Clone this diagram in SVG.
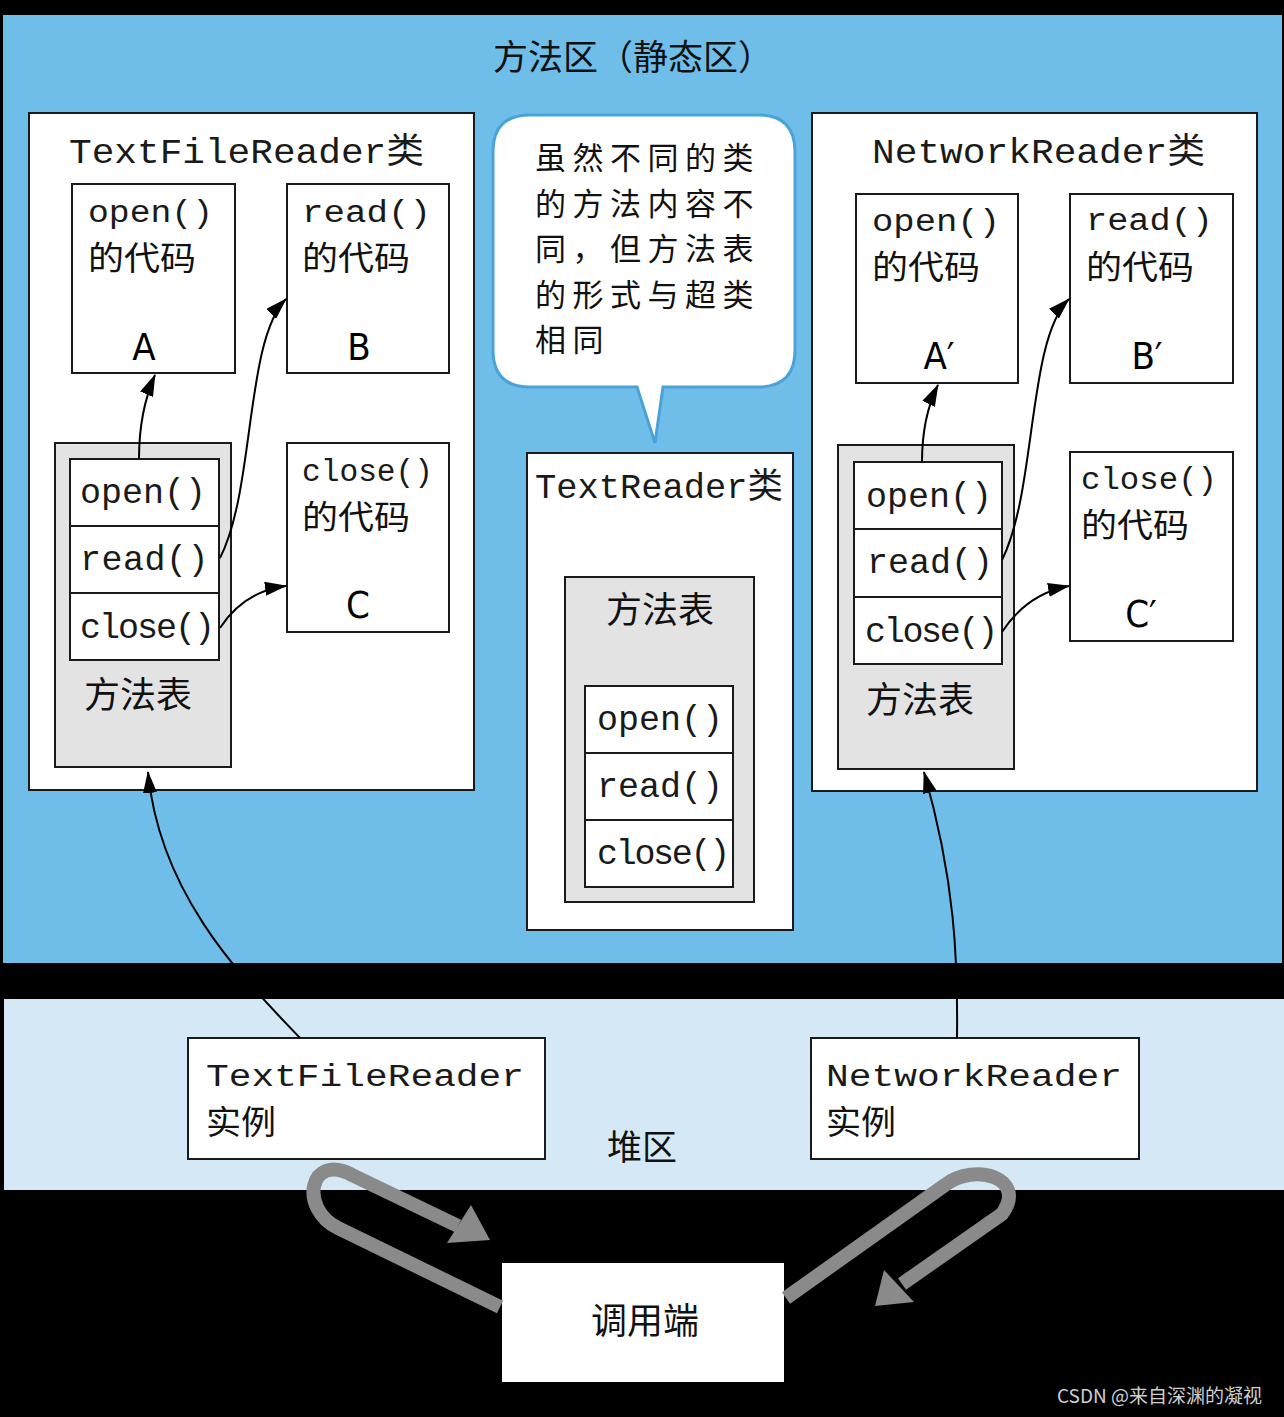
<svg xmlns="http://www.w3.org/2000/svg" width="1284" height="1417" viewBox="0 0 1284 1417">
<defs>
<style>
.box{fill:#fff;stroke:#1a1a1a;stroke-width:2}
.tbl{fill:#e3e3e3;stroke:#1a1a1a;stroke-width:2}
.mono{font-family:"Liberation Mono","Noto Sans CJK SC",monospace;font-size:35px;fill:#1a1a1a}
.m31{font-size:31px}
.cjk{font-family:"Noto Sans CJK SC",sans-serif;font-size:36px;fill:#111}
.c35{font-size:35px}
.c33{font-size:33px}
.c31{font-size:31px;letter-spacing:6.5px}
.let{font-family:"DejaVu Sans Condensed","DejaVu Sans",sans-serif;font-stretch:condensed;font-size:38px;fill:#000;text-anchor:middle}
.conn{fill:none;stroke:#000;stroke-width:2}
.big{fill:none;stroke:#8a8a8a;stroke-width:14;stroke-linejoin:round}
</style>
<marker id="ah" viewBox="0 0 22 14" refX="21" refY="7" markerWidth="22" markerHeight="14" markerUnits="userSpaceOnUse" orient="auto">
<path d="M0,0 L22,7 L0,14 z" fill="#000"/>
</marker>
</defs>
<rect x="0" y="0" width="1284" height="1417" fill="#000"/>
<rect id="method-area" x="3" y="15" width="1279" height="948" fill="#6ebee9"/>
<rect id="heap-area" x="4" y="999" width="1280" height="191" fill="#d5e8f6"/>
<text class="cjk c35" x="493" y="70">方法区（静态区）</text>

<g id="textfilereader-class">
<rect class="box" x="29" y="113" width="445" height="677"/>
<text class="mono" x="69" y="163" textLength="355" lengthAdjust="spacingAndGlyphs">TextFileReader类</text>
</g>
<g id="tfr-open-code">
<rect class="box" x="72" y="184" width="163" height="189"/>
<text class="mono m31" x="88" y="222" textLength="125" lengthAdjust="spacingAndGlyphs">open()</text>
<text class="cjk c33" x="88" y="270" textLength="108" lengthAdjust="spacingAndGlyphs">的代码</text>
<text class="let" x="144" y="360">A</text>
</g>
<g id="tfr-read-code">
<rect class="box" x="287" y="184" width="162" height="189"/>
<text class="mono m31" x="302" y="222" textLength="129" lengthAdjust="spacingAndGlyphs">read()</text>
<text class="cjk c33" x="302" y="270" textLength="108" lengthAdjust="spacingAndGlyphs">的代码</text>
<text class="let" x="359" y="360">B</text>
</g>
<g id="tfr-close-code">
<rect class="box" x="287" y="443" width="162" height="189"/>
<text class="mono m31" x="302" y="481" textLength="131" lengthAdjust="spacingAndGlyphs">close()</text>
<text class="cjk c33" x="302" y="529" textLength="108" lengthAdjust="spacingAndGlyphs">的代码</text>
<text class="let" x="358" y="618">C</text>
</g>
<g id="tfr-method-table">
<rect class="tbl" x="55" y="443" width="176" height="324"/>
<rect class="box" x="70" y="459" width="149" height="67"/>
<rect class="box" x="70" y="526" width="149" height="67"/>
<rect class="box" x="70" y="593" width="149" height="67"/>
<text class="mono" x="80" y="503">open()</text>
<text class="mono" x="80" y="570" letter-spacing="0.5">read()</text>
<text class="mono" x="80" y="638" letter-spacing="-2">close()</text>
<text class="cjk" x="84" y="708">方法表</text>
</g>

<g id="bubble">
<path d="M530,115 H758 Q795,115 795,152 V350 Q795,387 758,387 H663 L655,443 L637,387 H530 Q493,387 493,350 V152 Q493,115 530,115 Z" fill="#fff" stroke="#4aa3d8" stroke-width="3"/>
<text class="cjk c31" x="535" y="169">虽然不同的类</text>
<text class="cjk c31" x="535" y="214.5">的方法内容不</text>
<text class="cjk c31" x="535" y="260">同，但方法表</text>
<text class="cjk c31" x="535" y="305.5">的形式与超类</text>
<text class="cjk c31" x="535" y="351">相同</text>
</g>

<g id="textreader-class">
<rect class="box" x="527" y="453" width="266" height="477"/>
<text class="mono" x="535" y="498" textLength="248" lengthAdjust="spacingAndGlyphs">TextReader类</text>
<rect class="tbl" x="565" y="577" width="189" height="325"/>
<text class="cjk" x="660" y="623" text-anchor="middle">方法表</text>
<rect class="box" x="585" y="686" width="148" height="67"/>
<rect class="box" x="585" y="753" width="148" height="67"/>
<rect class="box" x="585" y="820" width="148" height="67"/>
<text class="mono" x="597" y="730">open()</text>
<text class="mono" x="597" y="797">read()</text>
<text class="mono" x="597" y="864" letter-spacing="-2.3">close()</text>
</g>

<g id="networkreader-class">
<rect class="box" x="812" y="113" width="445" height="678"/>
<text class="mono" x="872" y="163" textLength="333" lengthAdjust="spacingAndGlyphs">NetworkReader类</text>
</g>
<g id="nr-open-code">
<rect class="box" x="856" y="194" width="162" height="189"/>
<text class="mono m31" x="872" y="231" textLength="128" lengthAdjust="spacingAndGlyphs">open()</text>
<text class="cjk c33" x="872" y="279" textLength="108" lengthAdjust="spacingAndGlyphs">的代码</text>
<text class="let" x="939" y="369">A′</text>
</g>
<g id="nr-read-code">
<rect class="box" x="1070" y="194" width="163" height="189"/>
<text class="mono m31" x="1086" y="230" textLength="127" lengthAdjust="spacingAndGlyphs">read()</text>
<text class="cjk c33" x="1086" y="279" textLength="108" lengthAdjust="spacingAndGlyphs">的代码</text>
<text class="let" x="1147" y="369">B′</text>
</g>
<g id="nr-close-code">
<rect class="box" x="1070" y="452" width="163" height="189"/>
<text class="mono m31" x="1081" y="489" textLength="136" lengthAdjust="spacingAndGlyphs">close()</text>
<text class="cjk c33" x="1081" y="537" textLength="108" lengthAdjust="spacingAndGlyphs">的代码</text>
<text class="let" x="1141" y="627">C′</text>
</g>
<g id="nr-method-table">
<rect class="tbl" x="838" y="445" width="176" height="324"/>
<rect class="box" x="854" y="462" width="148" height="67"/>
<rect class="box" x="854" y="529" width="148" height="68"/>
<rect class="box" x="854" y="597" width="148" height="67"/>
<text class="mono" x="866" y="507">open()</text>
<text class="mono" x="867" y="573">read()</text>
<text class="mono" x="865" y="642" letter-spacing="-2.3">close()</text>
<text class="cjk" x="866" y="713">方法表</text>
</g>

<g id="tfr-instance">
<rect class="box" x="188" y="1038" width="357" height="121"/>
<text class="mono m31" x="206" y="1086" textLength="318" lengthAdjust="spacingAndGlyphs">TextFileReader</text>
<text class="cjk c33" x="206" y="1134" textLength="70" lengthAdjust="spacingAndGlyphs">实例</text>
</g>
<g id="nr-instance">
<rect class="box" x="811" y="1038" width="328" height="121"/>
<text class="mono m31" x="826" y="1086" textLength="296" lengthAdjust="spacingAndGlyphs">NetworkReader</text>
<text class="cjk c33" x="826" y="1134" textLength="70" lengthAdjust="spacingAndGlyphs">实例</text>
</g>
<text id="heap-label" class="cjk c35" x="642" y="1160" text-anchor="middle">堆区</text>

<g id="caller">
<rect x="502" y="1263" width="282" height="119" fill="#fff"/>
<text class="cjk" x="645" y="1334" text-anchor="middle">调用端</text>
</g>

<g id="connectors">
<path class="conn" d="M139,459 C139,425 144,400 155,375" marker-end="url(#ah)"/>
<path class="conn" d="M220,558 C255,490 245,340 286,299" marker-end="url(#ah)"/>
<path class="conn" d="M220,628 C235,605 255,590 286,586" marker-end="url(#ah)"/>
<path class="conn" d="M922,462 C922,430 928,405 938,385" marker-end="url(#ah)"/>
<path class="conn" d="M1002,560 C1037,490 1027,340 1069,299" marker-end="url(#ah)"/>
<path class="conn" d="M1002,632 C1017,609 1037,592 1069,586" marker-end="url(#ah)"/>
<path class="conn" d="M300,1038 C250,985 160,900 148,772" marker-end="url(#ah)"/>
<path class="conn" d="M957,1038 C958,960 955,880 924,772" marker-end="url(#ah)"/>
<path class="big" d="M500,1307 L338,1228 C298,1208 310,1152 352,1175 L458,1226"/>
<polygon points="490,1240 447,1243 471,1205" fill="#8a8a8a"/>
<path class="big" d="M786,1298 L945,1185 C975,1162 1028,1178 1002,1214 L902,1284"/>
<polygon points="875,1306 884,1270 914,1302" fill="#8a8a8a"/>
</g>
<text id="watermark" x="1057" y="1403" font-family="'Noto Sans CJK SC',sans-serif" font-size="19" fill="#cfcfcf">CSDN @来自深渊的凝视</text>
</svg>
